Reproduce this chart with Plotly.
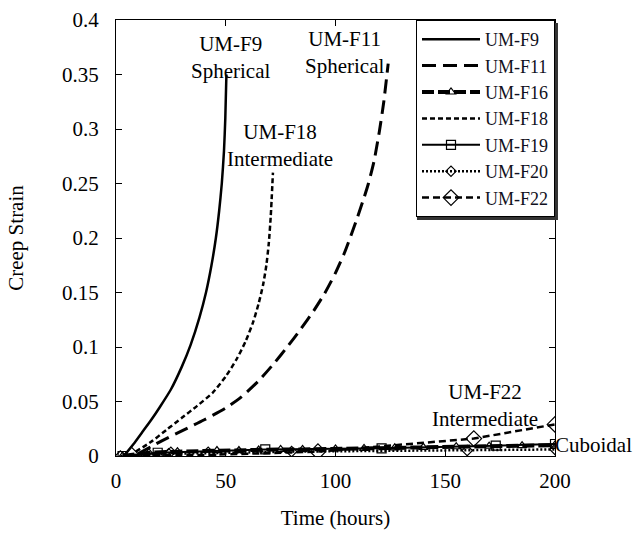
import plotly.graph_objects as go

# Data
f9_x = [4, 8, 12, 16, 20, 25, 30, 34, 38, 41, 43.5, 45.5, 47, 48.2, 49.2, 49.8, 50.3]
f9_y = [0.001, 0.011, 0.022, 0.033, 0.045, 0.061, 0.082, 0.102, 0.127, 0.150, 0.175, 0.200, 0.225, 0.25, 0.28, 0.31, 0.35]

f11_x = [10, 20, 30, 40, 50, 57, 65, 72, 78, 84, 90, 95, 100, 104, 107, 110, 113, 115, 117.5, 120, 122, 124]
f11_y = [0.002, 0.013, 0.023, 0.033, 0.044, 0.054, 0.069, 0.085, 0.100, 0.116, 0.133, 0.149, 0.168, 0.186, 0.202, 0.219, 0.237, 0.25, 0.27, 0.298, 0.325, 0.36]

f16_x = [3, 15, 28, 46, 56, 65, 75, 85, 100, 113, 127, 140, 155, 170, 185, 200]
f16_y = [0.000, 0.003, 0.004, 0.005, 0.005, 0.0055, 0.006, 0.006, 0.0065, 0.007, 0.0075, 0.008, 0.0085, 0.009, 0.0095, 0.010]

f18_x = [9, 16, 23, 30, 37, 44, 50, 55, 59, 62.5, 65, 67, 68.5, 69.6, 70.5, 71.5]
f18_y = [0.004, 0.013, 0.024, 0.035, 0.046, 0.058, 0.073, 0.089, 0.105, 0.123, 0.14, 0.157, 0.175, 0.195, 0.22, 0.26]

f19_x = [3, 19, 68, 121, 173, 200]
f19_y = [0.000, 0.003, 0.006, 0.007, 0.0095, 0.011]

f20_x = [2, 24, 80, 160, 200]
f20_y = [0.000, 0.002, 0.004, 0.005, 0.006]

f22_x = [7, 25, 42, 92, 163, 200]
f22_y = [0.001, 0.001, 0.001, 0.004, 0.016, 0.029]

names = ["UM-F9", "UM-F11", "UM-F16", "UM-F18", "UM-F19", "UM-F20", "UM-F22"]

FONT = "Liberation Serif, Times New Roman, serif"
INK = "#000000"

fig = go.Figure()

fig.add_trace(go.Scatter(x=f9_x, y=f9_y, name=names[0], mode="lines",
                         line=dict(color=INK, width=2.5, shape="spline", smoothing=0.6)))
fig.add_trace(go.Scatter(x=f11_x, y=f11_y, name=names[1], mode="lines",
                         line=dict(color=INK, width=3, dash="14px,7px", shape="spline", smoothing=0.6)))
fig.add_trace(go.Scatter(x=f16_x, y=f16_y, name=names[2], mode="lines+markers",
                         line=dict(color=INK, width=4, dash="12px,4px"),
                         marker=dict(symbol="triangle-up-open", size=8, color=INK, line=dict(width=1.2))))
fig.add_trace(go.Scatter(x=f18_x, y=f18_y, name=names[3], mode="lines",
                         line=dict(color=INK, width=2.5, dash="5px,3px", shape="spline", smoothing=0.6)))
fig.add_trace(go.Scatter(x=f19_x, y=f19_y, name=names[4], mode="lines+markers",
                         line=dict(color=INK, width=2),
                         marker=dict(symbol="square-open", size=9, color=INK, line=dict(width=1.2))))
fig.add_trace(go.Scatter(x=f20_x, y=f20_y, name=names[5], mode="lines+markers",
                         line=dict(color=INK, width=2.5, dash="2px,2px"),
                         marker=dict(symbol="diamond-open", size=8, color=INK, line=dict(width=1.2))))
fig.add_trace(go.Scatter(x=f22_x, y=f22_y, name=names[6], mode="lines+markers",
                         line=dict(color=INK, width=2.5, dash="7px,4px"),
                         marker=dict(symbol="diamond-open", size=12, color=INK, line=dict(width=1.2))))

annots = [
    dict(x=52, y=0.366, text="UM-F9<br>Spherical", xanchor="center"),
    dict(x=104.3, y=0.37, text="UM-F11<br>Spherical", xanchor="center"),
    dict(x=74.7, y=0.285, text="UM-F18<br>Intermediate", xanchor="center"),
    dict(x=168, y=0.046, text="UM-F22<br>Intermediate", xanchor="center"),
    dict(x=199, y=0.010, text="Cuboidal", xanchor="left"),
]
for a in annots:
    fig.add_annotation(x=a["x"], y=a["y"], text=a["text"], xanchor=a["xanchor"],
                       yanchor="middle", showarrow=False, align="center",
                       font=dict(family=FONT, size=21, color=INK))

# legend shadow
fig.add_shape(type="rect", xref="paper", yref="paper",
              x0=0.6856, x1=1.0068, y0=0.541, y1=0.993,
              fillcolor="#333333", line=dict(width=0), layer="above")

fig.update_layout(
    width=636, height=533,
    margin=dict(l=116, r=81, t=20, b=77, autoexpand=False),
    paper_bgcolor="white", plot_bgcolor="white",
    font=dict(family=FONT, size=21, color=INK),
    showlegend=True,
    legend=dict(x=1, y=1, xanchor="right", yanchor="top",
                bgcolor="white", bordercolor=INK, borderwidth=1,
                font=dict(family=FONT, size=18, color="#101020"),
                tracegroupgap=0, itemwidth=58),
    xaxis=dict(range=[0, 200], tick0=0, dtick=50, ticks="inside", ticklen=6,
               tickcolor=INK, showline=True, linecolor=INK, linewidth=1, mirror="ticks",
               showgrid=False, zeroline=False, automargin=False,
               title=dict(text="Time (hours)", font=dict(family=FONT, size=21), standoff=18),
               tickfont=dict(family=FONT, size=21), ticklabelstandoff=6),
    yaxis=dict(range=[0, 0.4], tick0=0, dtick=0.05, ticks="inside", ticklen=6,
               tickcolor=INK, showline=True, linecolor=INK, linewidth=1, mirror="ticks",
               showgrid=False, zeroline=False, automargin=False,
               title=dict(text="Creep Strain", font=dict(family=FONT, size=21), standoff=32),
               tickfont=dict(family=FONT, size=21), ticklabelstandoff=12),
)

fig.write_html("out.html")
